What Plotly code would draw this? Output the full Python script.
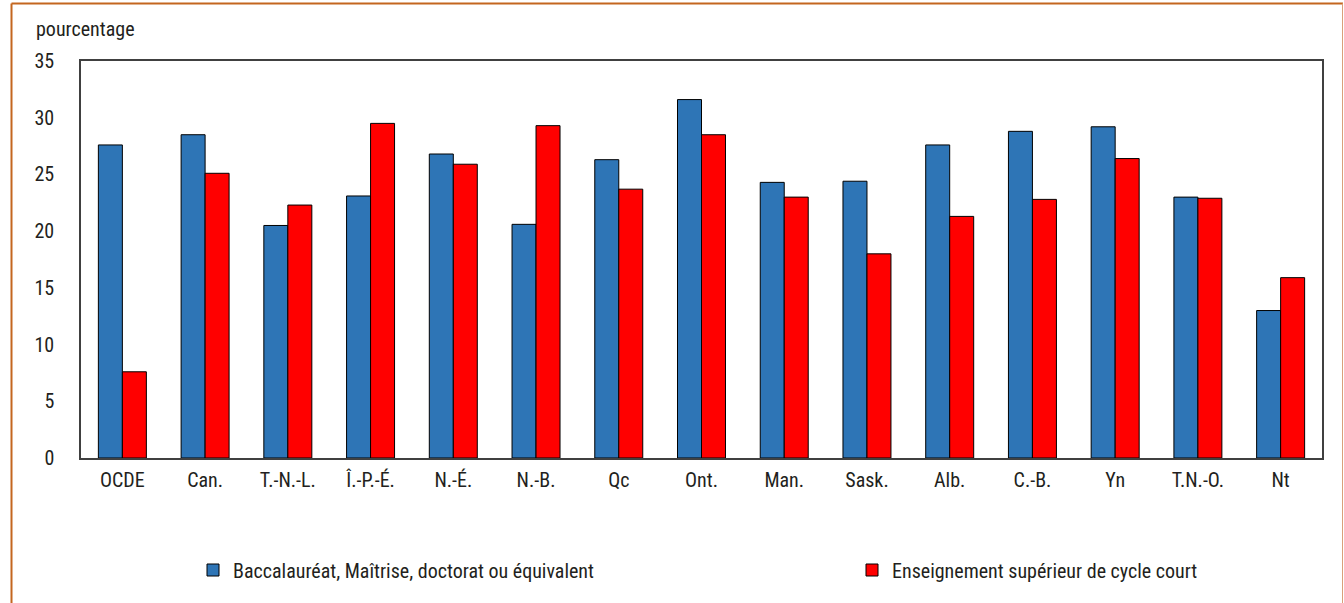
import plotly.graph_objects as go

categories = ["OCDE", "Can.", "T.-N.-L.", "Î.-P.-É.", "N.-É.", "N.-B.", "Qc", "Ont.",
              "Man.", "Sask.", "Alb.", "C.-B.", "Yn", "T.N.-O.", "Nt"]
bacc = [27.6, 28.5, 20.5, 23.1, 26.8, 20.6, 26.3, 31.6, 24.3, 24.4, 27.6, 28.8, 29.2, 23.0, 13.0]
court = [7.6, 25.1, 22.3, 29.5, 25.9, 29.3, 23.7, 28.5, 23.0, 18.0, 21.3, 22.8, 26.4, 22.9, 15.9]
series_names = ["Baccalauréat, Maîtrise, doctorat ou équivalent",
                "Enseignement supérieur de cycle court"]
y_ticks = [0, 5, 10, 15, 20, 25, 30, 35]

FONT = "Liberation Sans Narrow, Arial Narrow, Roboto Condensed, Roboto, sans-serif"
FS = 20
TXT = "#231F20"

fig = go.Figure()
fig.add_trace(go.Bar(x=categories, y=bacc, name=series_names[0], legend="legend",
                     marker=dict(color="#2E75B6", line=dict(color="#000000", width=1))))
fig.add_trace(go.Bar(x=categories, y=court, name=series_names[1], legend="legend2",
                     marker=dict(color="#FF0000", line=dict(color="#000000", width=1))))

L, R, T, B = 81, 22, 61, 145
W, H = 1344, 603
pw = W - L - R
ph = H - T - B

def px_x(p):
    return (p - L) / pw

def px_y(p):
    return (H - B - p) / ph

leg_common = dict(orientation="h", xanchor="left", yanchor="middle", y=px_y(570),
                  font=dict(family=FONT, size=FS, color=TXT), bgcolor="rgba(0,0,0,0)")

fig.update_layout(
    width=W, height=H,
    margin=dict(l=L, r=R, t=T, b=B),
    paper_bgcolor="white", plot_bgcolor="white",
    barmode="group", bargap=0.42, bargroupgap=0,
    font=dict(family=FONT, size=FS, color=TXT),
    showlegend=True,
    legend=dict(x=px_x(193), **leg_common),
    legend2=dict(x=px_x(852), **leg_common),
    xaxis=dict(showline=True, linecolor="#404040", linewidth=1.5, mirror=True,
               ticks="", showgrid=False, ticklabelstandoff=3, tickfont=dict(size=FS)),
    yaxis=dict(range=[0, 35], tickvals=y_ticks, showline=True, linecolor="#404040",
               linewidth=1.5, mirror=True, ticks="", showgrid=False, zeroline=False,
               ticklabelstandoff=21, tickfont=dict(size=FS)),
    annotations=[dict(text="pourcentage", x=px_x(34), y=px_y(29), xref="paper", yref="paper",
                      xanchor="left", yanchor="middle", showarrow=False,
                      font=dict(family=FONT, size=FS, color=TXT))],
    shapes=[
        dict(type="line", xref="paper", yref="paper", x0=px_x(11.5), x1=px_x(11.5),
             y0=px_y(3.5), y1=px_y(610), line=dict(color="#C4661F", width=2)),
        dict(type="line", xref="paper", yref="paper", x0=px_x(11.5), x1=px_x(1343),
             y0=px_y(3.5), y1=px_y(3.5), line=dict(color="#C4661F", width=2)),
        dict(type="line", xref="paper", yref="paper", x0=px_x(1342.5), x1=px_x(1342.5),
             y0=px_y(3.5), y1=px_y(610), line=dict(color="#D9A07A", width=1)),
    ],
)

fig.write_html("out.html", config={"displayModeBar": False},
               post_script="document.body.style.margin='0';document.body.style.overflow='hidden';")
